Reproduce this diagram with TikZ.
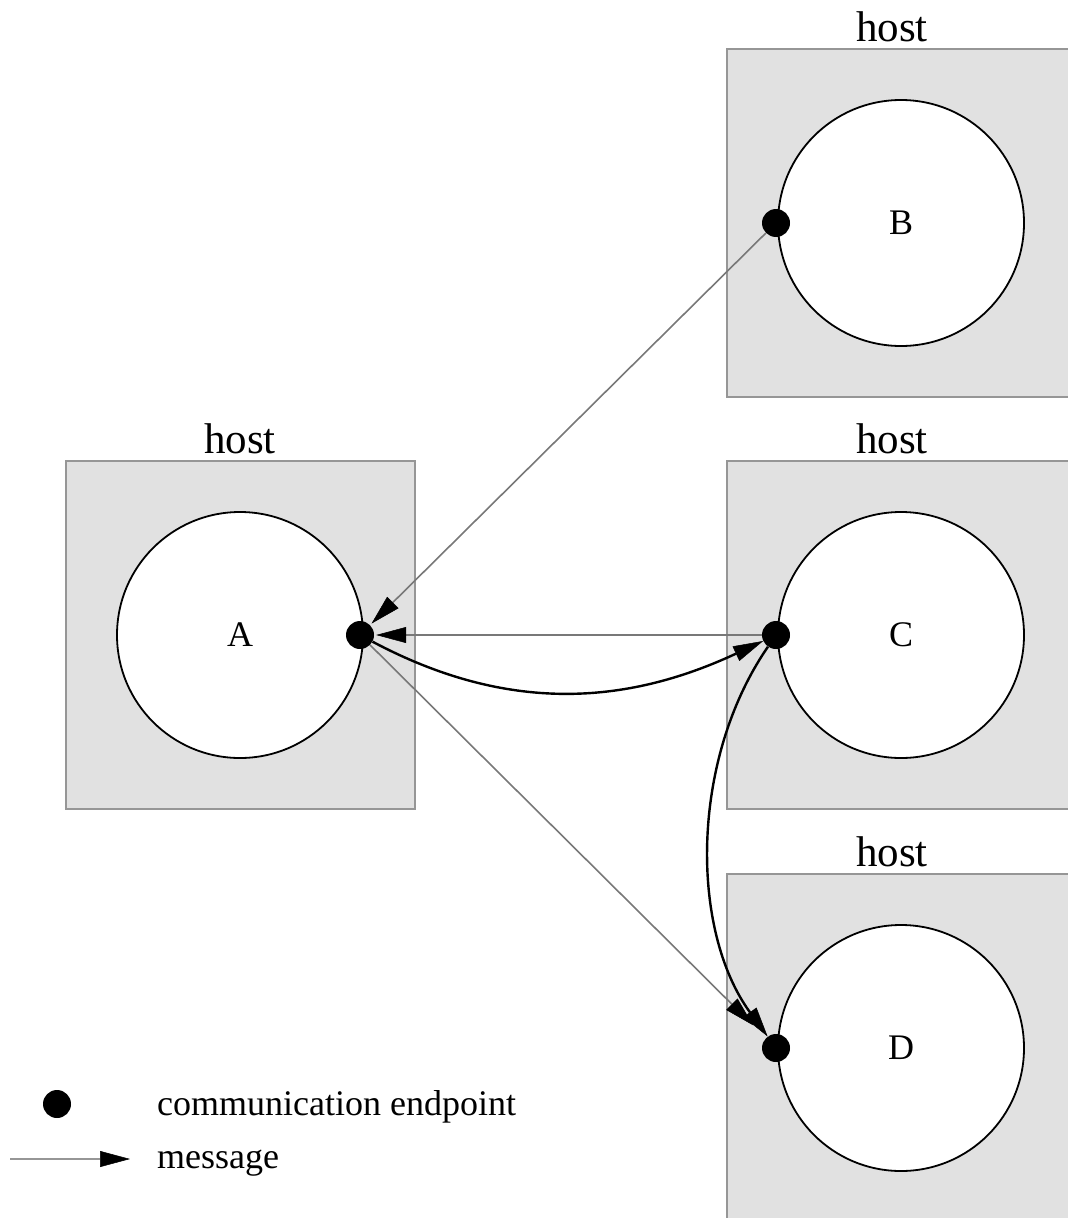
\documentclass[tikz,border=0pt]{standalone}
\usepackage{fontspec}
\setmainfont{Liberation Serif}
\usetikzlibrary{arrows.meta}
\definecolor{boxfill}{RGB}{225,225,225}
\definecolor{boxline}{RGB}{150,150,150}
\definecolor{msggray}{RGB}{120,120,120}
\tikzset{
  hostbox/.style={fill=boxfill, draw=boxline, line width=1.6pt},
  proc/.style={circle, draw=black, fill=white, line width=1.8pt, minimum size=246pt, inner sep=0pt, font=\fontsize{36}{40}\selectfont},
  endpt/.style={circle, fill=black, minimum size=28pt, inner sep=0pt},
  hostlabel/.style={anchor=base, font=\fontsize{43}{48}\selectfont, inner sep=0pt},
  legendtext/.style={anchor=base west, font=\fontsize{36}{40}\selectfont, inner sep=0pt},
  tiphead/.style={-{Triangle[length=30pt, width=16pt, fill=black, color=black, line width=0.5pt]}},
  msg/.style={draw=msggray, line width=1.6pt, tiphead},
  msgbold/.style={draw=black, line width=2.4pt, tiphead},
}
\begin{document}
\begin{tikzpicture}[x=1pt, y=-1pt]
\useasboundingbox (0,0) rectangle (1068,1218);
\begin{scope}
\clip (0,0) rectangle (1068,1218);
% host boxes
\draw[hostbox] (66,461) rectangle (415,809);
\draw[hostbox] (727,49) rectangle (1075,397);
\draw[hostbox] (727,461) rectangle (1075,809);
\draw[hostbox] (727,874) rectangle (1075,1230);
\end{scope}
% host labels
\node[hostlabel] (hA) at (240,453) {host};
\node[hostlabel] (hB) at (892,41) {host};
\node[hostlabel] (hC) at (892,453) {host};
\node[hostlabel] (hD) at (892,866) {host};
% processes
\node[proc] (A) at (240,635) {A};
\node[proc] (B) at (901,223) {B};
\node[proc] (C) at (901,635) {C};
\node[proc] (D) at (901,1048) {D};
% endpoints
\node[endpt] (eA) at (360,635) {};
\node[endpt] (eB) at (776,223) {};
\node[endpt] (eC) at (776,635) {};
\node[endpt] (eD) at (776,1048) {};
% messages
\draw[msg, shorten >=2pt] (eB) -- (eA);
\draw[msg, shorten >=2pt] (eC) -- (eA);
\draw[msg, shorten >=18pt] (eA) -- (eD);
\draw[msgbold] (eA) to[out=-28, in=205] (eC);
\draw[msgbold] (eC) .. controls (690,760) and (690,930) .. (eD);
% legend
\node[endpt] (legdot) at (57,1104) {};
\node[legendtext] (legdottext) at (157,1115) {communication endpoint};
\coordinate (legstart) at (10,1159);
\coordinate (legend) at (130,1159);
\draw[msg, draw=boxline] (legstart) -- (legend);
\node[legendtext] (legmsgtext) at (157,1168) {message};
\end{tikzpicture}
\end{document}
